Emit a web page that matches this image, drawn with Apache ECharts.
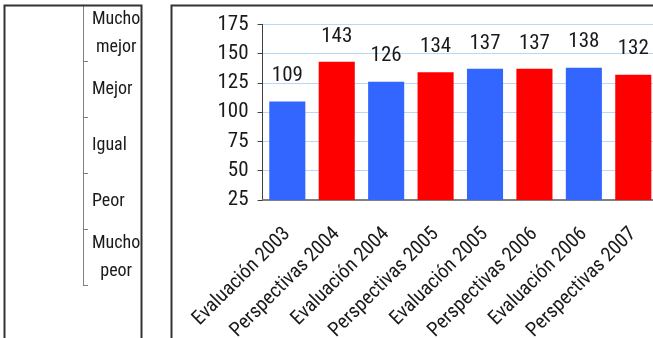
<!DOCTYPE html>
<html>
<head>
<meta charset="utf-8">
<script src="https://cdn.jsdelivr.net/npm/echarts@6/dist/echarts.min.js"></script>
<style>
  html, body { margin: 0; padding: 0; background: #fff; }
  #chart { width: 653px; height: 338px; }
</style>
</head>
<body>
<div id="chart"></div>
<script>
// Survey index by period: assessments (blue) vs outlook (red)
const categories = [
  'Evaluación 2003', 'Perspectivas 2004', 'Evaluación 2004', 'Perspectivas 2005',
  'Evaluación 2005', 'Perspectivas 2006', 'Evaluación 2006', 'Perspectivas 2007'
];
const values = [109, 143, 126, 134, 137, 137, 138, 132];
const barColors = ['#3366FF', '#FF0000', '#3366FF', '#FF0000', '#3366FF', '#FF0000', '#3366FF', '#FF0000'];

// Qualitative scale shown beside the chart, top to bottom
const scaleLabels = ['Mucho\nmejor', 'Mejor', 'Igual', 'Peor', 'Mucho\npeor'];

const FONT = "'Roboto Condensed', 'Liberation Sans', Arial, sans-serif";
const TEXT = '#1a1a1a';

const chart = echarts.init(document.getElementById('chart'), null, { renderer: 'canvas' });

chart.setOption({
  backgroundColor: '#ffffff',
  animation: false,
  textStyle: { fontFamily: FONT },
  grid: [
    { left: 262.6, right: -5, top: 24.3, bottom: 138, outerBoundsMode: 'none', containLabel: false },
    { left: 83, width: 50, top: 5, height: 280, outerBoundsMode: 'none', containLabel: false }
  ],
  xAxis: [
    {
      gridIndex: 0,
      type: 'category',
      data: categories,
      axisLine: { lineStyle: { color: '#808080', width: 2 } },
      axisTick: { show: false },
      axisLabel: {
        rotate: 45, interval: 0, margin: 31,
        fontFamily: FONT, fontSize: 20, color: TEXT
      },
      splitLine: { show: false }
    },
    { gridIndex: 1, type: 'value', show: false }
  ],
  yAxis: [
    {
      gridIndex: 0,
      type: 'value',
      min: 25, max: 175, interval: 25,
      axisLine: { show: true, lineStyle: { color: '#404040', width: 1 } },
      axisTick: { show: true, length: 5, lineStyle: { color: '#404040' } },
      axisLabel: { margin: 14, fontFamily: FONT, fontSize: 21, color: TEXT },
      splitLine: { show: true, lineStyle: { color: '#B8D8F8', width: 1 } }
    },
    {
      gridIndex: 1,
      type: 'category',
      inverse: true,
      data: scaleLabels,
      axisLine: { show: true, lineStyle: { color: '#808080', width: 1 } },
      axisTick: { show: true, inside: true, length: 5, lineStyle: { color: '#808080' } },
      axisLabel: {
        inside: true, margin: 9, align: 'left',
        fontFamily: FONT, fontSize: 18, color: TEXT, lineHeight: 28,
        formatter: function (v) {
          const lines = v.split('\n');
          if (lines.length === 1) return v;
          return lines.map(function (s) { return '{c|' + s + '}'; }).join('\n');
        },
        rich: {
          c: { align: 'center', fontFamily: FONT, fontSize: 18, color: TEXT, lineHeight: 28 }
        }
      },
      splitLine: { show: false }
    }
  ],
  series: [
    {
      type: 'bar',
      xAxisIndex: 0,
      yAxisIndex: 0,
      barCategoryGap: '27%',
      data: values.map(function (v, i) {
        return { value: v, itemStyle: { color: barColors[i] } };
      }),
      label: {
        show: true, position: 'top', distance: 15,
        fontFamily: FONT, fontSize: 21, color: TEXT
      }
    }
  ],
  graphic: [
    {
      type: 'rect', silent: true, z: 100,
      shape: { x: 4.5, y: 5.5, width: 137, height: 400 },
      style: { fill: 'none', stroke: '#333333', lineWidth: 2 }
    },
    {
      type: 'rect', silent: true, z: 100,
      shape: { x: 171.5, y: 5.5, width: 600, height: 400 },
      style: { fill: 'none', stroke: '#333333', lineWidth: 2 }
    }
  ]
});
</script>
</body>
</html>
